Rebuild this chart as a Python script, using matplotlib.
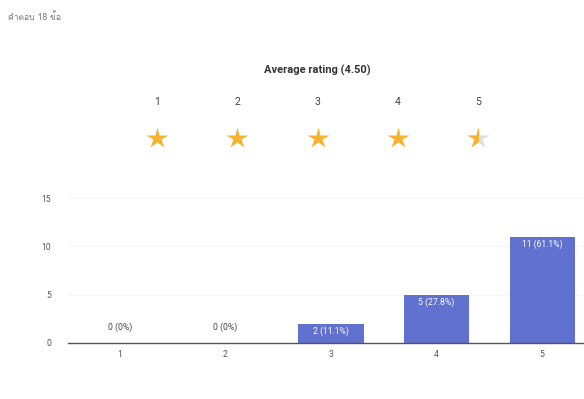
import matplotlib
matplotlib.use("Agg")
import matplotlib.pyplot as plt
from matplotlib import font_manager
from matplotlib.ft2font import FT2Font
from matplotlib.patches import Rectangle

# ---- data ----
header_text = "คำตอบ 18 ข้อ"
title_text = "Average rating (4.50)"
ratings = [1, 2, 3, 4, 5]
star_fill = [1, 1, 1, 1, 0.5]
categories = ["1", "2", "3", "4", "5"]
counts = [0, 0, 2, 5, 11]
labels = ["0 (0%)", "0 (0%)", "2 (11.1%)", "5 (27.8%)", "11 (61.1%)"]
yticks = [0, 5, 10, 15]

# find a font with Thai glyphs, if any
thai_family = None
for fe in font_manager.fontManager.ttflist:
    try:
        cm = FT2Font(fe.fname).get_charmap()
        if 0x0E04 in cm:
            thai_family = fe.name
            break
    except Exception:
        pass
fam = ([thai_family] if thai_family else []) + ["Roboto", "DejaVu Sans"]
plt.rcParams['font.family'] = ["Roboto", "DejaVu Sans"]

W, H = 584, 399
fig = plt.figure(figsize=(W / 100, H / 100), dpi=100)
fig.patch.set_facecolor("white")

fig.text(8 / W, 1 - 17 / H, header_text, family=fam, fontsize=6.2, color="#777777", va="center", ha="left")

# ---- stars axes ----
axs = fig.add_axes([116.9 / W, 1 - 160 / H, 401.5 / W, 100 / H])
axs.set_xlim(0.5, 5.5)
axs.set_ylim(0, 1)
axs.axis("off")
axs.text(3, 0.9, title_text, ha="center", va="center", fontsize=8, fontweight="bold", color="#333333")
gold = "#F5B430"
for r, f in zip(ratings, star_fill):
    axs.text(r, 0.58, str(r), ha="center", va="center", fontsize=7.5, color="#444444")
    if f < 1:
        axs.plot([r], [0.22], marker="*", ms=16, color="#dedede", mec="none")
        line, = axs.plot([r], [0.22], marker="*", ms=16, color=gold, mec="none")
        clip = Rectangle((r - 0.5, 0), 0.5, 1, transform=axs.transData)
        line.set_clip_path(clip)
    else:
        axs.plot([r], [0.22], marker="*", ms=16, color=gold, mec="none")

# ---- bar axes ----
left_px, right_px = 68, 594
bot_px, top_px = 343, 198
ax = fig.add_axes([left_px / W, 1 - bot_px / H, (right_px - left_px) / W, (bot_px - top_px) / H])
x = list(range(len(categories)))
bars = ax.bar(x, counts, width=0.62, color="#6171cf", zorder=2)
ax.set_xlim(-0.49, 4.49)
ax.set_ylim(0, 15)
ax.set_yticks(yticks)
ax.set_xticks(x)
ax.set_xticklabels(categories)
ax.tick_params(axis="both", length=0, labelsize=6.2, colors="#555555")
ax.tick_params(axis="x", pad=5)
ax.tick_params(axis="y", pad=12)
for s in ["top", "right", "left"]:
    ax.spines[s].set_visible(False)
ax.spines["bottom"].set_color("#555555")
ax.spines["bottom"].set_linewidth(1.0)
ax.yaxis.grid(True, color="#f4f4f4", linewidth=0.6, zorder=0)
ax.set_axisbelow(True)
ax.patch.set_alpha(0)
for xi, c, lab in zip(x, counts, labels):
    if c == 0:
        ax.text(xi, 1.1, lab, ha="center", va="bottom", fontsize=6.2, color="#444444")
    else:
        ax.text(xi, c - 0.25, lab, ha="center", va="top", fontsize=6.2, color="white")

fig.savefig("out.png", dpi=100)
